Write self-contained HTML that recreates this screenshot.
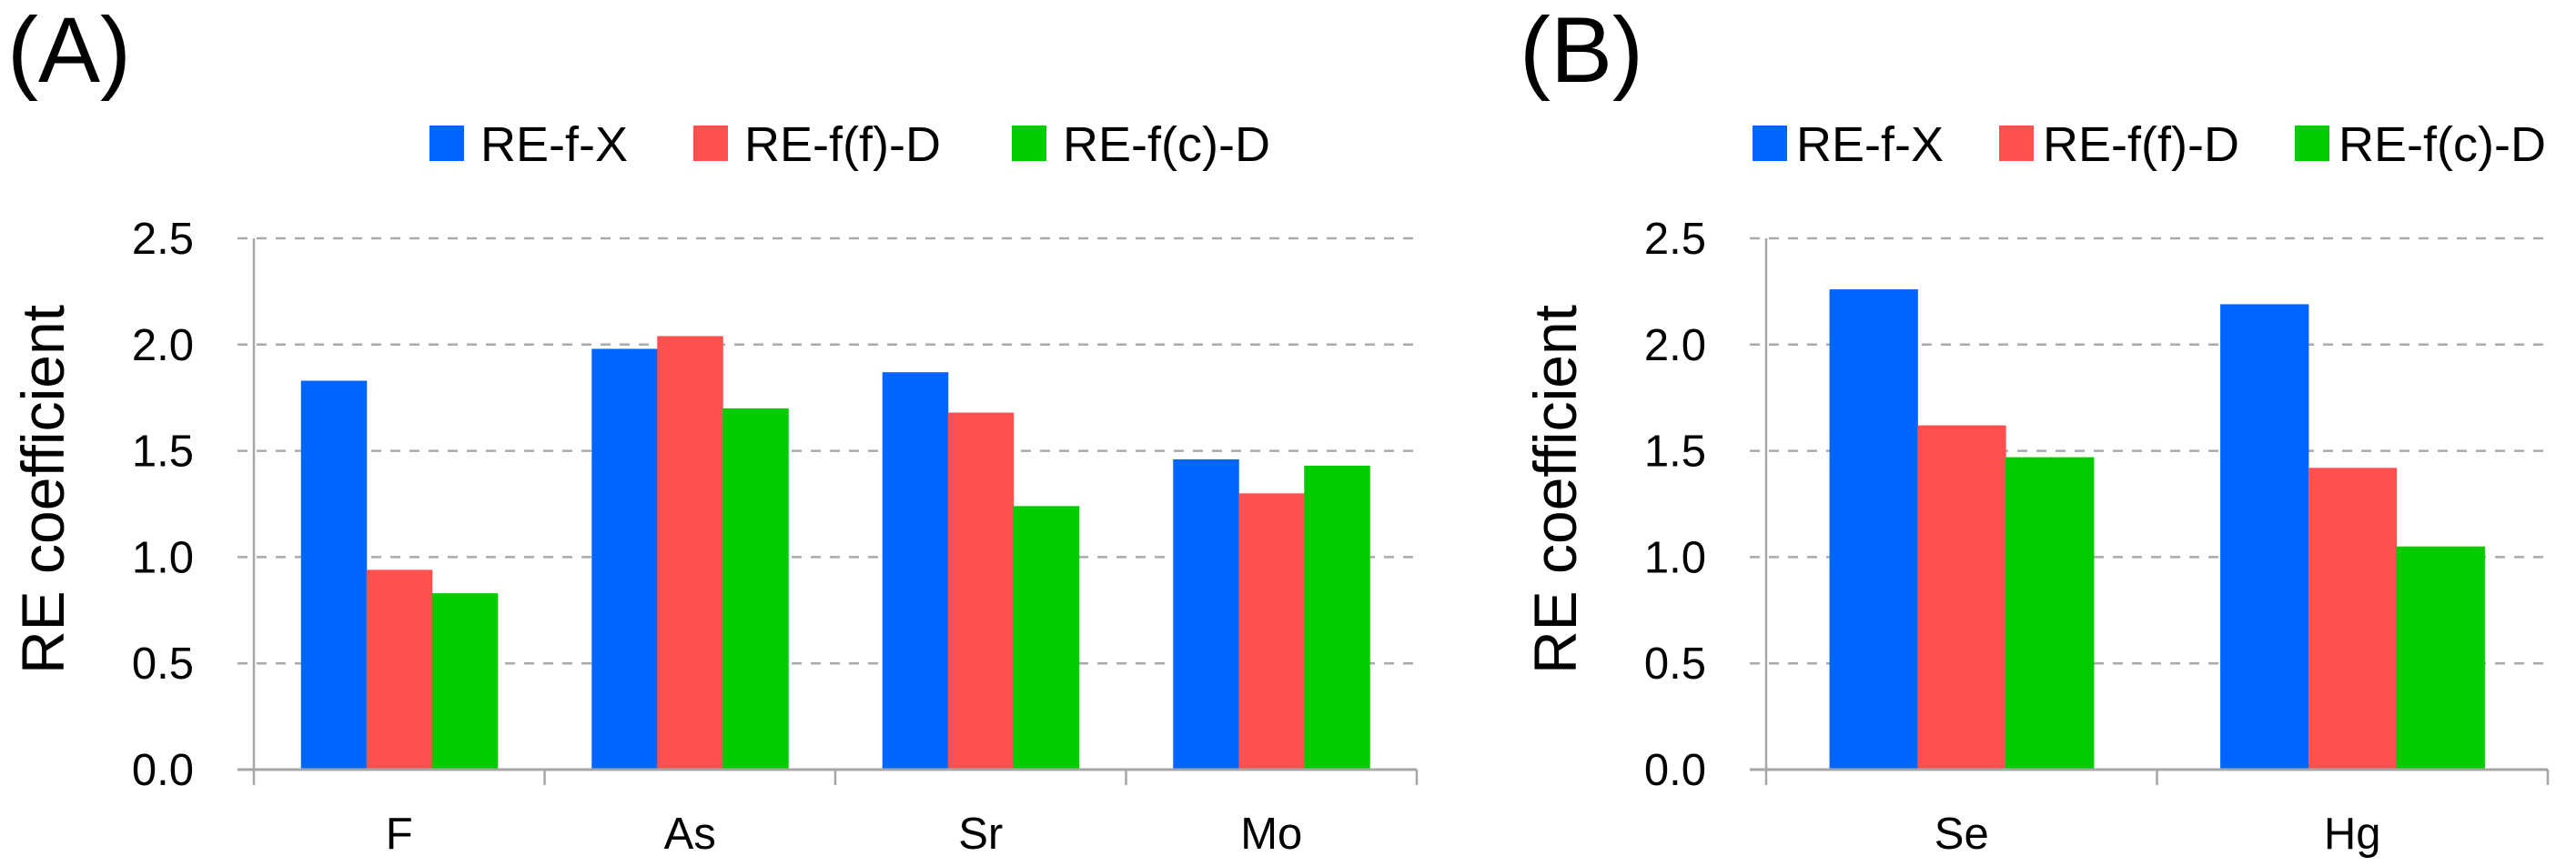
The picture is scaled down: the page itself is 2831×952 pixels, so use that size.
<!DOCTYPE html>
<html><head><meta charset="utf-8"><style>
html,body{margin:0;padding:0;background:#fff;}
svg{display:block;font-family:"Liberation Sans",Arial,sans-serif;}
</style></head><body>
<svg id="fig" width="2831" height="952" viewBox="0 0 2831 952" xmlns="http://www.w3.org/2000/svg">
<text x="8" y="90" font-size="102">(A)</text>
<text x="1670" y="90" font-size="102">(B)</text>
<g id="gA"></g>
<g id="gB"></g>
</svg>
<script>
const seriesNames = ["RE-f-X", "RE-f(f)-D", "RE-f(c)-D"];
const seriesColors = ["#0066FF", "#FF5050", "#00CC00"];
const yTicks = [0, 0.5, 1.0, 1.5, 2.0, 2.5];
const yTickLabels = ["0.0", "0.5", "1.0", "1.5", "2.0", "2.5"];
const catsA = ["F", "As", "Sr", "Mo"];
const reFXA = [1.83, 1.98, 1.87, 1.46];
const reFfDA = [0.94, 2.04, 1.68, 1.30];
const reFcDA = [0.83, 1.70, 1.24, 1.43];
const catsB = ["Se", "Hg"];
const reFXB = [2.26, 2.19];
const reFfDB = [1.62, 1.42];
const reFcDB = [1.47, 1.05];

const NS = "http://www.w3.org/2000/svg";
function mk(parent, tag, attrs, txt){
  const e = document.createElementNS(NS, tag);
  for (const k in attrs) e.setAttribute(k, attrs[k]);
  if (txt !== undefined) e.textContent = txt;
  parent.appendChild(e);
  return e;
}
function panel(g, cfg, cats, series){
  const y0 = 846, yTop = 262, yMax = 2.5;
  const yScale = v => y0 - (v / yMax) * (y0 - yTop);
  const catW = (cfg.right - cfg.axisX) / cats.length;
  const pad = catW * 0.162;
  const bw = (catW - 2 * pad) / 3;
  // gridlines
  yTicks.forEach((t, i) => {
    const y = yScale(t);
    if (t > 0) {
      const l = mk(g, "line", {x1: cfg.axisX - 18, x2: cfg.right, y1: y, y2: y, stroke: "#aaaaaa", "stroke-width": 2.5, "stroke-dasharray": "11 10"});
      
      
    }
    const tl = mk(g, "text", {x: cfg.axisX - 66, y: y + 17, "font-size": 49, "text-anchor": "end"}, yTickLabels[i]);
    
    
  });
  // bars
  cats.forEach((c, ci) => {
    series.forEach((arr, si) => {
      const x = cfg.axisX + ci * catW + pad + si * bw;
      const y = yScale(arr[ci]);
      const r = mk(g, "rect", {x: x, y: y, width: bw + 0.5, height: y0 - y, fill: seriesColors[si]});
      
      
    });
    const cl = mk(g, "text", {x: cfg.axisX + (ci + 0.5) * catW, y: 933, "font-size": 49, "text-anchor": "middle"}, c);
    
    
  });
  // axes
  const xa = mk(g, "line", {x1: cfg.axisX - 18, x2: cfg.right, y1: y0, y2: y0, stroke: "#a6a6a6", "stroke-width": 3});
  
  
  const ya = mk(g, "line", {x1: cfg.axisX, x2: cfg.axisX, y1: yTop, y2: 863, stroke: "#a6a6a6", "stroke-width": 2.5});
  
  
  for (let i = 1; i <= cats.length; i++) {
    const tx = cfg.axisX + i * catW;
    const tk = mk(g, "line", {x1: tx, x2: tx, y1: y0, y2: 863, stroke: "#a6a6a6", "stroke-width": 2.5});
    
    
  }
  // y title
  const yt = mk(g, "text", {x: 0, y: 0, "font-size": 66, "text-anchor": "middle", transform: "translate(" + cfg.titleX + ",538) rotate(-90)"}, "RE coefficient");
  
  
  // legend
  seriesNames.forEach((n, i) => {
    const sx = cfg.legX[i];
    const sq = mk(g, "rect", {x: sx, y: 138, width: 38, height: 39, fill: seriesColors[i]});
    
    
    const lt = mk(g, "text", {x: sx + cfg.legGap, y: 177, "font-size": 54}, n);
    
    
  });
}
panel(document.getElementById("gA"), {axisX: 279, right: 1557, titleX: 70, legX: [472, 762, 1112], legGap: 56}, catsA, [reFXA, reFfDA, reFcDA]);
panel(document.getElementById("gB"), {axisX: 1941, right: 2800, titleX: 1732, legX: [1926, 2197, 2522], legGap: 48}, catsB, [reFXB, reFfDB, reFcDB]);
</script>
</body></html>
